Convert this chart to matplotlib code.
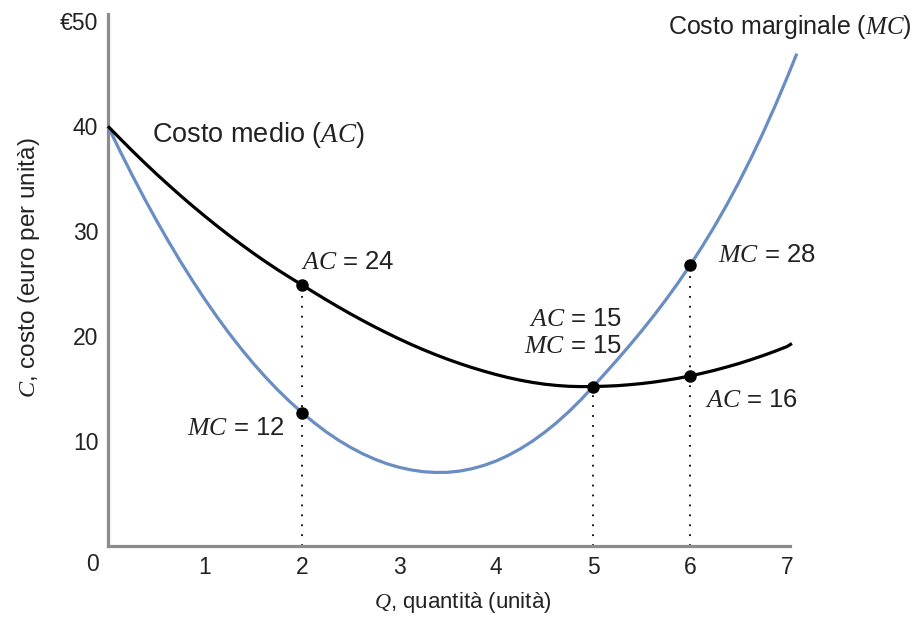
import matplotlib
matplotlib.use("Agg")
import matplotlib.pyplot as plt

plt.rcParams['font.family'] = ['Liberation Sans', 'DejaVu Sans']
plt.rcParams['mathtext.fontset'] = 'custom'
plt.rcParams['mathtext.it'] = 'Liberation Serif:italic'
plt.rcParams['mathtext.rm'] = 'Liberation Sans'

# Quantity (units) and costs (euro per unit)
q = [0, 0.125, 0.25, 0.375, 0.5, 0.625, 0.75, 0.875, 1, 1.125, 1.25, 1.375,
     1.5, 1.625, 1.75, 1.875, 2, 2.125, 2.25, 2.375, 2.5, 2.625, 2.75, 2.875,
     3, 3.125, 3.25, 3.375, 3.5, 3.625, 3.75, 3.875, 4, 4.125, 4.25, 4.375,
     4.5, 4.625, 4.75, 4.875, 5, 5.125, 5.25, 5.375, 5.5, 5.625, 5.75, 5.875,
     6, 6.125, 6.25, 6.375, 6.5, 6.625, 6.75, 6.875, 7]
q_ac = q + [7.05]
q_mc = q + [7.1]

ac = [40.00, 38.82, 37.66, 36.54, 35.45, 34.40, 33.37, 32.38, 31.42, 30.49,
      29.59, 28.73, 27.89, 27.09, 26.32, 25.59, 24.88, 24.16, 23.46, 22.78,
      22.12, 21.49, 20.88, 20.30, 19.74, 19.21, 18.71, 18.24, 17.80, 17.39,
      17.01, 16.66, 16.34, 16.05, 15.80, 15.59, 15.42, 15.30, 15.22, 15.19,
      15.20, 15.23, 15.28, 15.37, 15.48, 15.62, 15.79, 15.98, 16.21, 16.46,
      16.74, 17.05, 17.38, 17.75, 18.14, 18.56, 19.01, 19.30]
mc = [40.00, 37.62, 35.33, 33.13, 31.02, 29.00, 27.07, 25.23, 23.48, 21.82,
      20.25, 18.77, 17.38, 16.08, 14.87, 13.75, 12.71, 11.75, 10.87, 10.09,
      9.40, 8.79, 8.27, 7.84, 7.50, 7.25, 7.08, 7.01, 7.02, 7.14,
      7.36, 7.68, 8.10, 8.63, 9.26, 9.99, 10.83, 11.76, 12.80, 13.94,
      15.19, 16.46, 17.76, 19.10, 20.49, 21.94, 23.46, 25.06, 26.75, 28.54,
      30.44, 32.46, 34.61, 36.90, 39.33, 41.91, 44.64, 46.92]

x_ticks = [1, 2, 3, 4, 5, 6, 7]
y_ticks = [10, 20, 30, 40, 50]
y_tick_labels = ['10', '20', '30', '40', '€50']

# highlighted quantities
ac_points = [2, 5, 6]
mc_points = [2, 6]

fig = plt.figure(figsize=(9.16, 6.17), dpi=100)
W, H = 916, 617
ax = fig.add_axes([108 / W, 1 - 546 / H, (790 - 108) / W, (546 - 14) / H])
ax.set_xlim(0, 7.03)
ax.set_ylim(0, 50.7)

blue = '#6a8dc3'
ax.plot(q_mc, mc, color=blue, lw=2.3, solid_capstyle='butt', zorder=3, clip_on=False)
ax.plot(q_ac, ac, color='black', lw=2.3, solid_capstyle='butt', zorder=4, clip_on=False)

def ac_at(v):
    return ac[q_ac.index(v)]

def mc_at(v):
    return mc[q_mc.index(v)]

dots = (0, (1, 4.5))
ax.vlines(2, 0, ac_at(2), colors='black', linestyles=dots, lw=1.3, zorder=2)
ax.vlines(5, 0, ac_at(5), colors='black', linestyles=dots, lw=1.3, zorder=2)
ax.vlines(6, 0, mc_at(6), colors='black', linestyles=dots, lw=1.3, zorder=2)

ax.plot(ac_points, [ac_at(p) for p in ac_points], 'o', color='black', ms=8, zorder=5)
ax.plot(mc_points, [mc_at(p) for p in mc_points], 'o', color='black', ms=8, zorder=5)

for s in ['top', 'right']:
    ax.spines[s].set_visible(False)
for s in ['left', 'bottom']:
    ax.spines[s].set_color('#8c8c8c')
    ax.spines[s].set_linewidth(2.3)

tc = '#222222'
fs_tick = 16.5
ax.set_xticks(x_ticks)
ax.set_xticklabels([str(t) for t in x_ticks])
ax.set_yticks(y_ticks)
ax.set_yticklabels(y_tick_labels)
ax.tick_params(length=0, labelsize=fs_tick, colors=tc, pad=7)
ax.text(-0.16, -0.7, '0', ha='center', va='top', fontsize=fs_tick, color=tc, clip_on=False)

ax.set_xlabel('$Q$, quantità (unità)', fontsize=16, color=tc)
ax.xaxis.set_label_coords(0.52, -0.082)
ax.set_ylabel('$C$, costo (euro per unità)', fontsize=17.5, color=tc)
ax.yaxis.set_label_coords(-0.097, 0.524)

fs = 18.5
ax.text(7.03, 49.5, 'Costo marginale ($MC$)', ha='center', va='center', fontsize=18, color=tc, clip_on=False)
ax.text(0.45, 39.2, 'Costo medio ($AC$)', ha='left', va='center', fontsize=19.5, color=tc)
ax.text(1.99, 27.1, '$AC$ = 24', ha='left', va='center', fontsize=fs, color=tc)
ax.text(1.82, 11.25, '$MC$ = 12', ha='right', va='center', fontsize=fs, color=tc)
ax.text(5.3, 21.6, '$AC$ = 15', ha='right', va='center', fontsize=fs, color=tc)
ax.text(5.3, 19.1, '$MC$ = 15', ha='right', va='center', fontsize=fs, color=tc)
ax.text(6.29, 27.7, '$MC$ = 28', ha='left', va='center', fontsize=fs, color=tc)
ax.text(6.15, 13.9, '$AC$ = 16', ha='left', va='center', fontsize=fs, color=tc)

fig.savefig('out.png', dpi=100)
